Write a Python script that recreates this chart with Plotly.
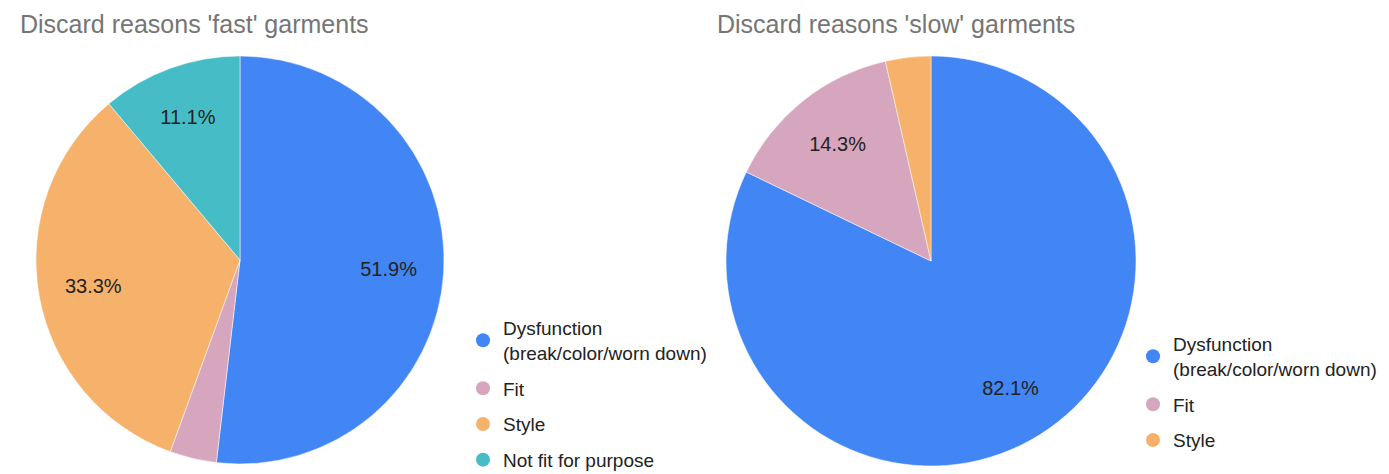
import plotly.graph_objects as go

# Data
labels_fast = ["Dysfunction<br>(break/color/worn down)", "Fit", "Style", "Not fit for purpose"]
values_fast = [14, 1, 9, 3]
labels_slow = ["Dysfunction<br>(break/color/worn down)", "Fit", "Style"]
values_slow = [23, 4, 1]
colors = {"Dysfunction<br>(break/color/worn down)": "#4285F4", "Fit": "#D5A6BD",
          "Style": "#F6B26B", "Not fit for purpose": "#46BDC6"}
title_fast = "Discard reasons 'fast' garments"
title_slow = "Discard reasons 'slow' garments"

W, H = 1389, 474
FONT = "Liberation Sans, Arial, sans-serif"
OFF = 8  # page body margin

def texts(vals):
    tot = sum(vals)
    return ["%{percent:.1%}" if v / tot > 0.05 else "" for v in vals]

def dom(cx, cy, r):
    cx -= OFF
    cy -= OFF
    return dict(x=[(cx - r) / W, (cx + r) / W], y=[1 - (cy + r) / H, 1 - (cy - r) / H])

fig = go.Figure()

def add_pie(labels, vals, d, legend):
    fig.add_trace(go.Pie(
        labels=labels, values=vals, sort=False, direction="clockwise", rotation=0,
        marker=dict(colors=[colors[l] for l in labels], line=dict(color="white", width=0.5)),
        textinfo="none", domain=d, showlegend=False, hoverinfo="label+percent"))
    # transparent ring carrying the percentage labels at ~0.73 of the radius
    fig.add_trace(go.Pie(
        labels=labels, values=vals, sort=False, direction="clockwise", rotation=0, hole=0.46,
        marker=dict(colors=["rgba(0,0,0,0)"] * len(labels), line=dict(width=0)),
        texttemplate=texts(vals), textposition="inside", insidetextorientation="horizontal",
        textfont=dict(size=20, color="#222222", family=FONT),
        domain=d, showlegend=False, hoverinfo="skip"))
    for l in labels:
        fig.add_trace(go.Scatter(
            x=[None], y=[None], mode="markers", name=l, legend=legend, legendgroup=legend + l,
            marker=dict(symbol="circle", size=14, color=colors[l])))

add_pie(labels_fast, values_fast, dom(240, 260, 204), "legend")
add_pie(labels_slow, values_slow, dom(931, 261, 205), "legend2")

leg_common = dict(font=dict(size=19, color="#222222", family=FONT), bgcolor="rgba(0,0,0,0)",
                  traceorder="grouped", tracegroupgap=8, itemclick=False,
                  xanchor="left", yanchor="top", xref="container", yref="container")
fig.update_layout(
    width=W, height=H, margin=dict(l=0, r=0, t=0, b=0, autoexpand=False),
    paper_bgcolor="white", plot_bgcolor="white",
    xaxis=dict(visible=False), yaxis=dict(visible=False),
    legend=dict(x=455 / W, y=1 - 301 / H, **leg_common),
    legend2=dict(x=1125 / W, y=1 - 317 / H, **leg_common),
    annotations=[
        dict(text=title_fast, x=10 / W, y=1 - 0 / H, xref="paper", yref="paper",
             xanchor="left", yanchor="top", showarrow=False,
             font=dict(size=25, color="#757575", family=FONT)),
        dict(text=title_slow, x=707 / W, y=1 - 0 / H, xref="paper", yref="paper",
             xanchor="left", yanchor="top", showarrow=False,
             font=dict(size=25, color="#757575", family=FONT)),
    ],
)

fig.write_html("out.html")
